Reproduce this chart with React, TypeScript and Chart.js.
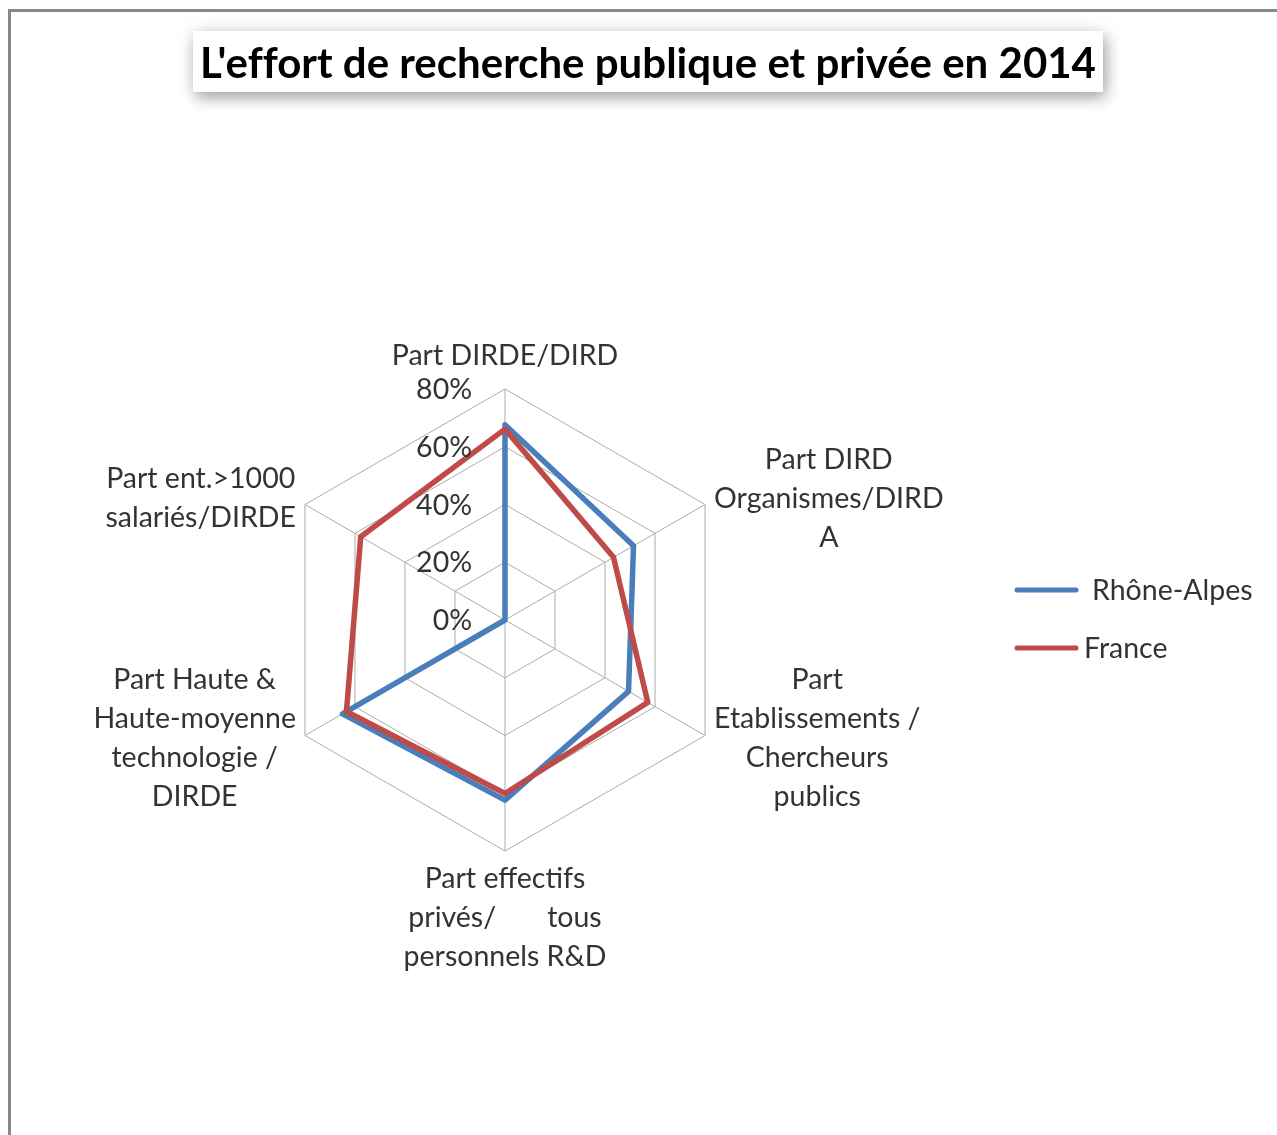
import React, { useEffect, useRef } from "react";
import { Chart, registerables } from "chart.js";

Chart.register(...registerables);

const TITLE = "L'effort de recherche publique et privée en 2014";

const CATEGORIES: string[][] = [
  ["Part DIRDE/DIRD"],
  ["Part DIRD", "Organismes/DIRD", "A"],
  ["Part", "Etablissements /", "Chercheurs", "publics"],
  ["Part effectifs", "privés/       tous", "personnels R&D"],
  ["Part Haute &", "Haute-moyenne", "technologie /", "DIRDE"],
  ["Part ent.>1000", "salariés/DIRDE"],
];

const SERIES_NAMES = ["Rhône-Alpes", "France"];
const RHONE_ALPES = [67.6, 51.4, 49.4, 62.4, 65.0, 0];
const FRANCE = [66.1, 43.4, 57.1, 60.1, 63.4, 57.7];
const SERIES_COLORS = ["#4a7ebb", "#be4b48"];

const TICK_MIN = 0;
const TICK_MAX = 80;
const TICK_STEP = 20;

const FONT_FAMILY = "Lato, 'Open Sans', sans-serif";
const LABEL_FONT = `28.5px ${FONT_FAMILY}`;
const TEXT_COLOR = "#333333";
const LINE_H = 39;

const labelPlugin = {
  id: "excelLabels",
  afterDraw(chart: any) {
    const scale = chart.scales.r;
    const ctx = chart.ctx as CanvasRenderingContext2D;
    ctx.save();
    ctx.font = LABEL_FONT;
    ctx.fillStyle = TEXT_COLOR;

    // tick labels
    ctx.textAlign = "right";
    ctx.textBaseline = "middle";
    scale.ticks.forEach((t: any) => {
      const d = scale.getDistanceFromCenterForValue(t.value);
      ctx.fillText(`${t.value}%`, scale.xCenter - 33, scale.yCenter - d + 1);
    });

    // point labels
    const labels: string[][] = chart.data.labels;
    labels.forEach((lines, i) => {
      const p = scale.getPointPosition(i, scale.drawingArea);
      const ang = (i * 2 * Math.PI) / labels.length; // 0 = top, clockwise
      const sx = Math.sin(ang);
      const cy = -Math.cos(ang);
      const widths = lines.map((l) => ctx.measureText(l).width);
      const maxW = Math.max(...widths);
      const blockH = lines.length * LINE_H;
      let centerX: number;
      let top: number;
      if (Math.abs(sx) < 0.01) {
        centerX = p.x;
        top = cy < 0 ? p.y - 33 - (lines.length - 1) * LINE_H - LINE_H / 2 : p.y + 28 - LINE_H / 2;
      } else {
        const pad = 9;
        centerX = sx > 0 ? p.x + pad + maxW / 2 : p.x - pad - maxW / 2;
        const dy = cy < 0 ? -6 : 3;
        top = p.y + dy - blockH / 2;
      }
      ctx.textAlign = "center";
      ctx.textBaseline = "middle";
      lines.forEach((l, k) => {
        ctx.fillText(l, centerX, top + LINE_H / 2 + k * LINE_H);
      });
    });

    // legend
    const legendY = [590, 648];
    const textX = [1092, 1084];
    chart.data.datasets.forEach((ds: any, i: number) => {
      ctx.beginPath();
      ctx.strokeStyle = ds.borderColor;
      ctx.lineWidth = 5;
      ctx.lineCap = "round";
      ctx.moveTo(1017, legendY[i]);
      ctx.lineTo(1076, legendY[i]);
      ctx.stroke();
      ctx.textAlign = "left";
      ctx.textBaseline = "middle";
      ctx.fillStyle = TEXT_COLOR;
      ctx.fillText(ds.label, textX[i], legendY[i] + 1);
    });
    ctx.restore();
  },
};

export default function App() {
  const ref = useRef<HTMLCanvasElement | null>(null);

  useEffect(() => {
    if (!ref.current) return;
    const chart = new Chart(ref.current, {
      type: "radar",
      data: {
        labels: CATEGORIES as any,
        datasets: [
          {
            label: SERIES_NAMES[0],
            data: RHONE_ALPES,
            borderColor: SERIES_COLORS[0],
            backgroundColor: "transparent",
            borderWidth: 5.5,
            pointRadius: 0,
            pointHoverRadius: 0,
            fill: false,
            tension: 0,
            borderJoinStyle: "round",
            order: 2,
          },
          {
            label: SERIES_NAMES[1],
            data: FRANCE,
            borderColor: SERIES_COLORS[1],
            backgroundColor: "transparent",
            borderWidth: 5.5,
            pointRadius: 0,
            pointHoverRadius: 0,
            fill: false,
            tension: 0,
            borderJoinStyle: "round",
            order: 1,
          },
        ],
      },
      options: {
        responsive: false,
        animation: false,
        events: [],
        layout: { padding: { left: 274, right: 541, top: 389, bottom: 284 } },
        plugins: {
          legend: { display: false },
          title: { display: false },
          tooltip: { enabled: false },
        },
        scales: {
          r: {
            min: TICK_MIN,
            max: TICK_MAX,
            startAngle: 0,
            ticks: { stepSize: TICK_STEP, display: false },
            pointLabels: { display: false },
            grid: { color: "#ababab", lineWidth: 1, circular: false },
            angleLines: { display: true, color: "#ababab", lineWidth: 1 },
          },
        },
      },
      plugins: [labelPlugin],
    });
    return () => chart.destroy();
  }, []);

  return (
    <div style={{ position: "absolute", left: 0, top: 0, width: 1277, height: 1135, overflow: "hidden", background: "#ffffff" }}>
      <div
        style={{
          position: "absolute",
          left: 8,
          top: 9,
          width: 1400,
          height: 1300,
          borderLeft: "3px solid #888888",
          borderTop: "3px solid #888888",
        }}
      />
      <canvas ref={ref} width={1277} height={1135} style={{ position: "absolute", left: 0, top: 0 }} />
      <div
        style={{
          position: "absolute",
          left: 193,
          top: 31,
          width: 910,
          height: 61,
          background: "#ffffff",
          boxShadow: "3px 6px 14px rgba(0,0,0,0.32), 0 0 22px rgba(0,0,0,0.10)",
          display: "flex",
          alignItems: "center",
          justifyContent: "center",
          fontFamily: FONT_FAMILY,
          fontWeight: 700,
          fontSize: 42,
          fontVariantLigatures: "none",
          color: "#000000",
          whiteSpace: "nowrap",
        }}
      >
        {TITLE}
      </div>
    </div>
  );
}
